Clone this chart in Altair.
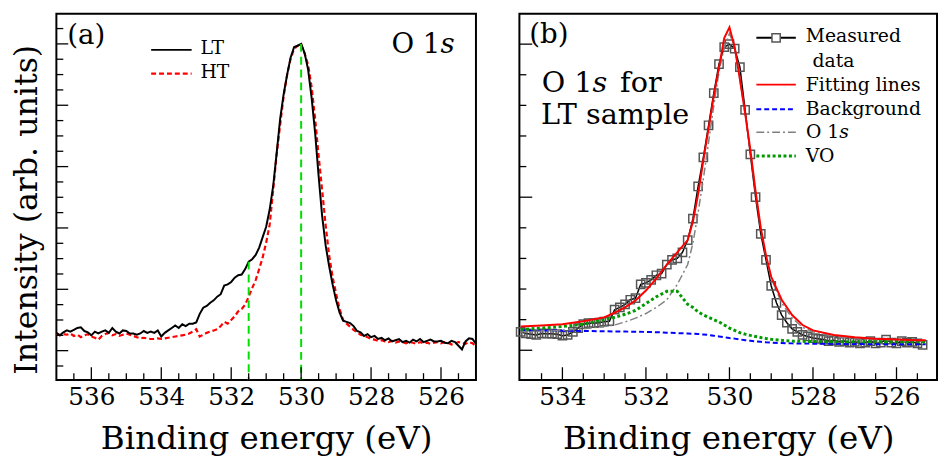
import altair as alt
import pandas as pd

FONT = "DejaVu Serif"

# ---------------- Panel (a) data : O 1s spectra, LT and HT ----------------
energy_a = [round(537.0 - 0.1 * i, 1) for i in range(121)]
lt_a = [
    0.29, 0.25, 0.30, 0.33, 0.31, 0.34, 0.37, 0.38, 0.32, 0.30,
    0.25, 0.31, 0.28, 0.31, 0.33, 0.29, 0.37, 0.31, 0.28, 0.33,
    0.32, 0.28, 0.28, 0.26, 0.28, 0.32, 0.29, 0.31, 0.29, 0.33,
    0.23, 0.29, 0.33, 0.37, 0.41, 0.37, 0.43, 0.40, 0.44, 0.44,
    0.46, 0.60, 0.70, 0.73, 0.78, 0.82, 0.88, 0.92, 1.06, 1.08,
    1.12, 1.19, 1.23, 1.24, 1.33, 1.45, 1.49, 1.56, 1.68, 1.85,
    2.02, 2.30, 2.68, 3.22, 3.78, 4.18, 4.50, 4.78, 4.95, 4.97,
    5.00, 4.85, 4.58, 4.12, 3.55, 2.85, 2.20, 1.72, 1.38, 1.08,
    0.82, 0.62, 0.49, 0.47, 0.45, 0.40, 0.32, 0.30, 0.24, 0.27,
    0.22, 0.24, 0.19, 0.21, 0.17, 0.20, 0.15, 0.17, 0.19, 0.14,
    0.16, 0.13, 0.18, 0.15, 0.19, 0.14, 0.16, 0.18, 0.15, 0.15,
    0.16, 0.13, 0.12, 0.16, 0.14, 0.08, 0.02, 0.15, 0.20, 0.19,
    0.11,
]
ht_a = [
    0.28, 0.25, 0.27, 0.26, 0.28, 0.24, 0.26, 0.22, 0.25, 0.27,
    0.23, 0.21, 0.18, 0.24, 0.27, 0.29, 0.25, 0.27, 0.24, 0.26,
    0.28, 0.26, 0.24, 0.22, 0.20, 0.21, 0.20, 0.19, 0.19, 0.20,
    0.19, 0.20, 0.21, 0.22, 0.23, 0.24, 0.25, 0.26, 0.28, 0.31,
    0.35, 0.23, 0.26, 0.29, 0.31, 0.33, 0.35, 0.40, 0.47, 0.44,
    0.50, 0.56, 0.64, 0.68, 0.75, 0.88, 1.02, 1.15, 1.33, 1.52,
    1.76, 2.05, 2.62, 3.20, 3.68, 4.15, 4.50, 4.76, 4.92, 4.97,
    5.00, 4.84, 4.66, 4.30, 3.78, 3.18, 2.62, 2.05, 1.56, 1.20,
    0.93, 0.68, 0.50, 0.44, 0.39, 0.34, 0.30, 0.26, 0.24, 0.22,
    0.19, 0.18, 0.16, 0.17, 0.15, 0.14, 0.16, 0.13, 0.15, 0.14,
    0.12, 0.14, 0.13, 0.11, 0.14, 0.12, 0.13, 0.11, 0.13, 0.14,
    0.12, 0.14, 0.13, 0.10, 0.12, 0.14, 0.13, 0.11, 0.14, 0.12,
    0.07,
]
# green guide lines: energy and height of their top
guide_energy = [531.5, 530.0]
guide_top = [1.45, 5.00]

xa_major = [536, 534, 532, 530, 528, 526]
xa_minor = [536.5, 535.5, 535.0, 534.5, 533.5, 533.0, 532.5, 531.5, 531.0, 530.5,
            529.5, 529.0, 528.5, 527.5, 527.0, 526.5, 525.5]
ya_major = [0, 1, 2, 3, 4, 5]
ya_minor = [-0.25, 0.25, 0.5, 0.75, 1.25, 1.5, 1.75, 2.25, 2.5, 2.75,
            3.25, 3.5, 3.75, 4.25, 4.5, 4.75, 5.25]

# ---------------- Panel (b) data : LT sample fit ----------------
energy_meas = [round(535.0 - 0.125 * i, 3) for i in range(78)]
measured = [
    0.12, 0.11, 0.105, 0.10, 0.11, 0.108, 0.108, 0.105, 0.095, 0.10,
    0.12, 0.145, 0.17, 0.177, 0.177, 0.18, 0.187, 0.19, 0.265, 0.28,
    0.30, 0.33, 0.34, 0.43, 0.44, 0.46, 0.49, 0.50, 0.56, 0.59,
    0.60, 0.64, 0.72, 0.86, 1.07, 1.26, 1.47, 1.68, 1.87, 1.98,
    2.00, 1.97, 1.85, 1.57, 1.28, 1.00, 0.76, 0.59, 0.42, 0.31,
    0.23, 0.18, 0.14, 0.12, 0.10, 0.09, 0.08, 0.075, 0.07, 0.06,
    0.065, 0.055, 0.06, 0.05, 0.055, 0.045, 0.05, 0.06, 0.045, 0.05,
    0.07, 0.05, 0.045, 0.06, 0.05, 0.055, 0.045, 0.035,
]
energy_fit = [535.0, 534.5, 534.0, 533.5, 533.0, 532.75, 532.5, 532.25, 532.0, 531.75,
              531.5, 531.25, 531.0, 530.875, 530.75, 530.625, 530.5, 530.375, 530.25, 530.125,
              530.0, 529.875, 529.75, 529.625, 529.5, 529.375, 529.25, 529.125, 529.0, 528.75,
              528.5, 528.25, 528.0, 527.5, 527.0, 526.5, 526.0, 525.5, 525.3]
fitting = [0.155, 0.162, 0.17, 0.19, 0.215, 0.245, 0.28, 0.325, 0.39, 0.47,
           0.56, 0.64, 0.72, 0.84, 1.02, 1.24, 1.45, 1.66, 1.85, 2.04,
           2.11, 1.98, 1.77, 1.55, 1.31, 1.04, 0.80, 0.62, 0.48, 0.33,
           0.23, 0.165, 0.13, 0.10, 0.085, 0.075, 0.07, 0.065, 0.065]
background = [0.13, 0.13, 0.128, 0.126, 0.124, 0.123, 0.122, 0.121, 0.12, 0.118,
              0.115, 0.112, 0.11, 0.108, 0.106, 0.103, 0.10, 0.095, 0.09, 0.085,
              0.08, 0.076, 0.071, 0.066, 0.062, 0.058, 0.055, 0.052, 0.05, 0.047,
              0.045, 0.044, 0.043, 0.042, 0.041, 0.04, 0.04, 0.04, 0.04]
o1s_peak = [0.12, 0.125, 0.13, 0.14, 0.155, 0.165, 0.185, 0.21, 0.24, 0.28,
            0.33, 0.43, 0.56, 0.70, 0.90, 1.12, 1.36, 1.60, 1.82, 1.98,
            2.07, 1.98, 1.77, 1.54, 1.30, 1.03, 0.79, 0.61, 0.47, 0.31,
            0.21, 0.15, 0.12, 0.09, 0.075, 0.068, 0.062, 0.058, 0.058]
vo_peak = [0.135, 0.145, 0.155, 0.17, 0.20, 0.215, 0.235, 0.26, 0.305, 0.35,
           0.385, 0.385, 0.30, 0.28, 0.25, 0.23, 0.215, 0.20, 0.185, 0.165,
           0.145, 0.13, 0.115, 0.105, 0.097, 0.09, 0.083, 0.077, 0.072, 0.065,
           0.06, 0.058, 0.057, 0.056, 0.055, 0.055, 0.055, 0.055, 0.055]

xb_major = [534, 532, 530, 528, 526]
xb_minor = [534.5, 533.5, 533.0, 532.5, 531.5, 531.0, 530.5, 529.5, 529.0, 528.5,
            527.5, 527.0, 526.5, 525.5]
yb_major = [0, 1, 2]
yb_minor = [0.2, 0.4, 0.6, 0.8, 1.2, 1.4, 1.6, 1.8]

# ---------------- tables ----------------
df_a = pd.DataFrame({"E": energy_a, "LT": lt_a, "HT": ht_a})
df_guide = pd.DataFrame({"E": guide_energy, "I": guide_top})
df_meas = pd.DataFrame({"E": energy_meas, "I": measured})
df_fit = pd.DataFrame({"E": energy_fit, "fit": fitting, "bg": background,
                       "o1s": o1s_peak, "vo": vo_peak})

W_A, W_B, H = 425, 423, 371
MAJ, MIN = 13, 7

x_title = "Binding energy (eV)"


def x_axis(values):
    return alt.Axis(values=values, format="d", title=x_title, ticks=False, tickSize=0,
                    domain=False, grid=False, labelPadding=5, labelFontSize=25,
                    labelBaseline="top", titleFontSize=33, titleY=69,
                    titleBaseline="alphabetic")


xa = dict(scale=alt.Scale(domain=[525, 537], reverse=True, nice=False, zero=False),
          axis=x_axis(xa_major))
ya = dict(scale=alt.Scale(domain=[-0.48, 5.49], nice=False, zero=False),
          axis=alt.Axis(title="Intensity (arb. units)", labels=False, ticks=False,
                        domain=False, grid=False, titleFontSize=32, titleX=-30,
                        titleY=198, titleAngle=270, titleBaseline="middle",
                        titleAlign="center"))
xb = dict(scale=alt.Scale(domain=[525.03, 535.03], reverse=True, nice=False, zero=False),
          axis=x_axis(xb_major))
yb = dict(scale=alt.Scale(domain=[-0.195, 2.198], nice=False, zero=False), axis=None)


def text(label, x, y, size, align="left", italic=False):
    return alt.Chart(pd.DataFrame({"t": [label]})).mark_text(
        align=align, baseline="middle", fontSize=size, font=FONT, color="black",
        fontStyle="italic" if italic else "normal"
    ).encode(x=alt.value(x), y=alt.value(y), text="t:N")


def sample(x1, x2, y, color, width, dash=None):
    kw = dict(color=color, strokeWidth=width)
    if dash:
        kw["strokeDash"] = dash
    return alt.Chart(pd.DataFrame({"k": [0]})).mark_rule(**kw).encode(
        x=alt.value(x1), x2=alt.value(x2), y=alt.value(y))


def xticks(values, xenc, length):
    return alt.Chart(pd.DataFrame({"E": values})).mark_rule(
        color="black", strokeWidth=1.3).encode(
        x=alt.X("E:Q", **xenc), y=alt.value(H), y2=alt.value(H - length))


def yticks(values, yenc, length):
    return alt.Chart(pd.DataFrame({"I": values})).mark_rule(
        color="black", strokeWidth=1.3).encode(
        y=alt.Y("I:Q", **yenc), x=alt.value(0), x2=alt.value(length))


# ---------------- panel (a) ----------------
base_a = alt.Chart(df_a)
ht_line = base_a.mark_line(color="#ff0000", strokeWidth=2.2, strokeDash=[5, 3]).encode(
    x=alt.X("E:Q", **xa), y=alt.Y("HT:Q", **ya))
lt_line = base_a.mark_line(color="black", strokeWidth=2).encode(
    x=alt.X("E:Q", **xa), y=alt.Y("LT:Q", **ya))
guides = alt.Chart(df_guide).mark_rule(color="#00e000", strokeWidth=2, strokeDash=[8, 5]).encode(
    x=alt.X("E:Q", **xa), y=alt.Y("I:Q", **ya), y2=alt.value(H))

panel_a = alt.layer(
    ht_line, lt_line, guides,
    xticks(xa_major, xa, MAJ), xticks(xa_minor, xa, MIN),
    yticks(ya_major, ya, 12), yticks(ya_minor, ya, MIN),
    text("(a)", 11, 23, 28),
    text("O 1", 389, 32, 28, align="right"), text("s", 389, 32, 28, italic=True),
    sample(96, 137, 36.5, "black", 2), sample(96, 137, 60.5, "#ff0000", 2.2, [5, 3]),
    text("LT", 146, 35, 19), text("HT", 146, 59, 19),
).properties(width=W_A, height=H)

# ---------------- panel (b) ----------------
meas_line = alt.Chart(df_meas).mark_line(color="black", strokeWidth=1.5).encode(
    x=alt.X("E:Q", **xb), y=alt.Y("I:Q", **yb))
meas_pts = alt.Chart(df_meas).mark_point(shape="square", size=70, filled=False,
                                          color="#555555", strokeWidth=1.5, opacity=1).encode(
    x=alt.X("E:Q", **xb), y=alt.Y("I:Q", **yb))
base_f = alt.Chart(df_fit)
bg_line = base_f.mark_line(color="#0000ff", strokeWidth=2, strokeDash=[5, 3]).encode(
    x=alt.X("E:Q", **xb), y=alt.Y("bg:Q", **yb))
o1s_line = base_f.mark_line(color="#808080", strokeWidth=1.5, strokeDash=[8, 3, 2, 3]).encode(
    x=alt.X("E:Q", **xb), y=alt.Y("o1s:Q", **yb))
vo_line = base_f.mark_line(color="#009a00", strokeWidth=3, strokeDash=[3, 2.5]).encode(
    x=alt.X("E:Q", **xb), y=alt.Y("vo:Q", **yb))
fit_line = base_f.mark_line(color="#ff0000", strokeWidth=2).encode(
    x=alt.X("E:Q", **xb), y=alt.Y("fit:Q", **yb))

legend_square = alt.Chart(pd.DataFrame({"k": [0]})).mark_point(
    shape="square", size=70, filled=True, fill="white", stroke="#555555",
    strokeWidth=1.5, opacity=1).encode(x=alt.value(260), y=alt.value(24.3))

panel_b = alt.layer(
    meas_line, meas_pts, bg_line, o1s_line, vo_line, fit_line,
    xticks(xb_major, xb, MAJ), xticks(xb_minor, xb, MIN),
    yticks(yb_major, yb, MAJ), yticks(yb_minor, yb, MIN),
    text("(b)", 10, 22, 28),
    text("O 1", 74, 70, 29, align="right"), text("s", 74, 70, 29, italic=True),
    text("for", 102, 70, 29), text("LT sample", 22, 103, 29),
    sample(240, 280, 24.3, "black", 2), legend_square,
    sample(240, 280, 71.7, "#ff0000", 2),
    sample(240, 280, 96.7, "#0000ff", 2, [5, 3]),
    sample(240, 280, 120, "#808080", 1.5, [8, 3, 2, 3]),
    sample(240, 280, 144, "#009a00", 3, [3, 2.5]),
    text("Measured", 290, 23, 19), text("data", 297, 48, 19),
    text("Fitting lines", 290, 72, 19), text("Background", 290, 96, 19),
    text("O 1", 324, 120, 19, align="right"), text("s", 324, 120, 19, italic=True),
    text("VO", 290, 144, 19),
).properties(width=W_B, height=H)

chart = alt.hconcat(panel_a, panel_b, spacing=31).properties(
    padding={"left": 1, "top": 2, "right": 0, "bottom": 0}
).configure_view(stroke="black", strokeWidth=2).configure_axis(
    labelFont=FONT, titleFont=FONT, labelColor="black", titleColor="black",
    titleFontWeight="normal"
).configure_text(font=FONT)

chart.save("out.html", embed_options={"renderer": "svg", "actions": False})
